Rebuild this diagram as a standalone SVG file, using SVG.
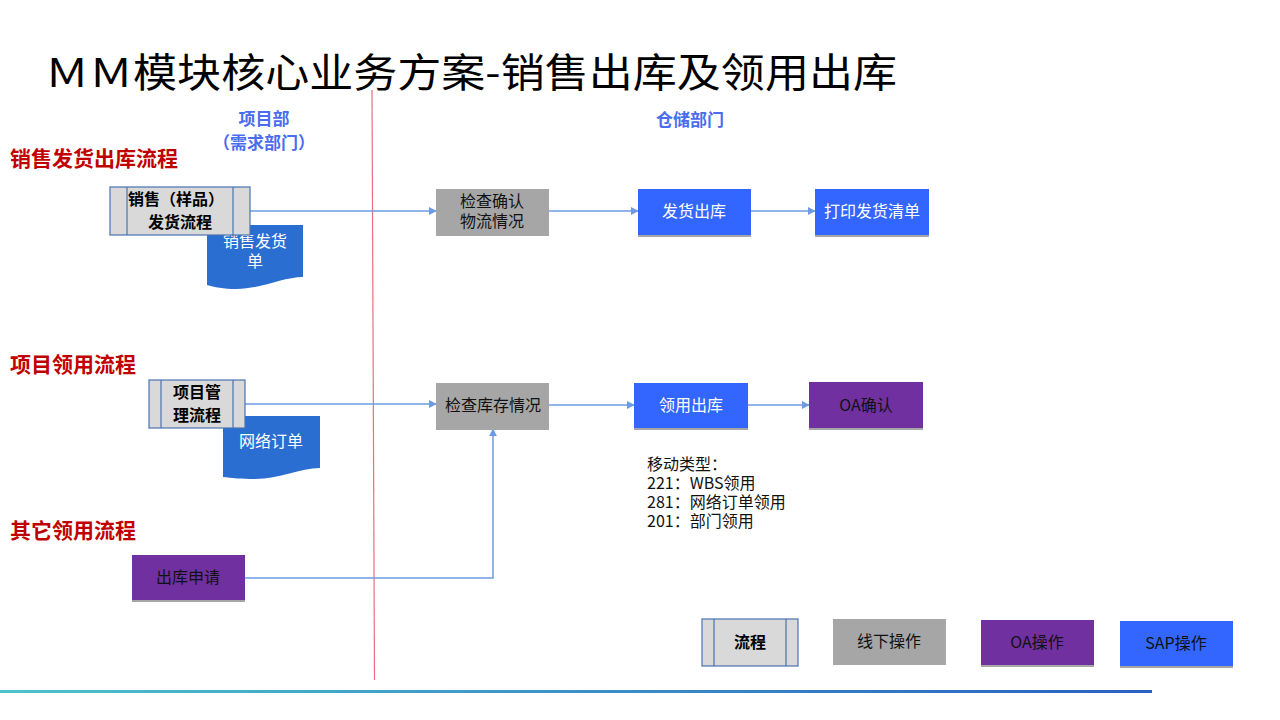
<svg xmlns="http://www.w3.org/2000/svg" width="1280" height="720" viewBox="0 0 1280 720">
<defs>
<linearGradient id="bar" x1="0" y1="0" x2="1" y2="0">
<stop offset="0" stop-color="#4CC3C9"/>
<stop offset="1" stop-color="#2A5FC4"/>
</linearGradient>
<marker id="arr" viewBox="0 0 10 10" refX="9" refY="5" markerWidth="8" markerHeight="8" markerUnits="userSpaceOnUse" orient="auto">
<path d="M0,0 L10,5 L0,10 Z" fill="#6D9BE3"/>
</marker>
<style>
text{font-family:"Microsoft YaHei","Noto Sans CJK SC","Liberation Sans",sans-serif;}
.lane{font-size:17px;font-weight:bold;fill:#4A6CF0;}
.flow{font-size:21px;font-weight:bold;fill:#C00000;}
.proc{fill:#D9D9D9;stroke:#4A72B0;stroke-width:1.2;}
.pt{font-size:16px;font-weight:bold;fill:#000;text-anchor:middle;}
.gray{fill:#A6A6A6;}
.blue{fill:#3366FF;}
.purp{fill:#7030A0;}
.shadow{fill:#A6A6A6;}
.doc{fill:#2B6ED2;}
.wt{font-size:16px;fill:#fff;text-anchor:middle;}
.bt{font-size:16px;fill:#111;text-anchor:middle;}
.mt{font-size:16px;fill:#111;}
.conn{fill:none;stroke:#6D9BE3;stroke-width:1.5;}
</style>
</defs>
<rect width="1280" height="720" fill="#fff"/>
<text x="45" y="87" font-size="40" textLength="852" lengthAdjust="spacingAndGlyphs" fill="#000">ＭＭ模块核心业务方案-销售出库及领用出库</text>
<line x1="372" y1="90" x2="374.5" y2="680" stroke="#E8707F" stroke-width="1.2"/>
<text class="lane" text-anchor="middle"><tspan x="264" y="125">项目部</tspan><tspan x="264" dy="24">（需求部门）</tspan></text>
<text class="lane" x="690" y="126" text-anchor="middle">仓储部门</text>
<text class="flow" x="10" y="166">销售发货出库流程</text>
<text class="flow" x="10" y="372">项目领用流程</text>
<text class="flow" x="10" y="538">其它领用流程</text>
<g id="connectors">
<path class="conn" d="M250,211 H436" marker-end="url(#arr)"/>
<path class="conn" d="M549,211 H638" marker-end="url(#arr)"/>
<path class="conn" d="M750,211 H815" marker-end="url(#arr)"/>
<path class="conn" d="M245,404 H436" marker-end="url(#arr)"/>
<path class="conn" d="M549,405 H634" marker-end="url(#arr)"/>
<path class="conn" d="M748,405 H809" marker-end="url(#arr)"/>
<path class="conn" d="M244,578 H493 V429" marker-end="url(#arr)"/>
</g>
<g id="doc1">
<path class="doc" d="M207,225 H303 V277 C283,277 262,289 236,289 C224,289 214,287 207,285 Z"/>
<text class="wt"><tspan x="255" y="247">销售发货</tspan><tspan x="255" dy="20">单</tspan></text>
</g>
<g id="proc1">
<rect class="proc" x="110" y="187" width="140" height="48"/>
<line class="proc" x1="127" y1="187" x2="127" y2="235"/>
<line class="proc" x1="233" y1="187" x2="233" y2="235"/>
<text class="pt"><tspan x="176" y="205">销售（样品）</tspan><tspan x="180" dy="23">发货流程</tspan></text>
</g>
<g id="check1">
<rect class="gray" x="436" y="189" width="113" height="47"/>
<text class="bt"><tspan x="492" y="207">检查确认</tspan><tspan x="492" dy="20">物流情况</tspan></text>
</g>
<g id="ship">
<rect class="shadow" x="638" y="189" width="113" height="48"/>
<rect class="blue" x="638" y="189" width="113" height="46"/>
<text class="wt" x="694" y="217">发货出库</text>
</g>
<g id="print">
<rect class="shadow" x="815" y="189" width="114" height="48"/>
<rect class="blue" x="815" y="189" width="114" height="46"/>
<text class="wt" x="872" y="217">打印发货清单</text>
</g>
<g id="doc2">
<path class="doc" d="M223,416 H320 V468 C300,468 280,479 255,479 C242,479 231,478 223,477 Z"/>
<text class="wt" x="271" y="447">网络订单</text>
</g>
<g id="proc2">
<rect class="proc" x="149" y="380" width="96" height="48"/>
<line class="proc" x1="161" y1="380" x2="161" y2="428"/>
<line class="proc" x1="233" y1="380" x2="233" y2="428"/>
<text class="pt"><tspan x="197" y="398">项目管</tspan><tspan x="197" dy="23">理流程</tspan></text>
</g>
<g id="check2">
<rect class="gray" x="436" y="383" width="113" height="47"/>
<text class="bt" x="493" y="411">检查库存情况</text>
</g>
<g id="issue">
<rect class="shadow" x="634" y="383" width="114" height="47"/>
<rect class="blue" x="634" y="383" width="114" height="45"/>
<text class="wt" x="691" y="411">领用出库</text>
</g>
<g id="oa">
<rect class="shadow" x="809" y="382" width="114" height="48"/>
<rect class="purp" x="809" y="382" width="114" height="46"/>
<text class="bt" x="866" y="411">OA确认</text>
</g>
<g id="movetypes">
<text class="mt"><tspan x="647" y="470">移动类型：</tspan><tspan x="647" dy="19">221：WBS领用</tspan><tspan x="647" dy="19">281：网络订单领用</tspan><tspan x="647" dy="19">201：部门领用</tspan></text>
</g>
<g id="request">
<rect class="shadow" x="132" y="555" width="113" height="47"/>
<rect class="purp" x="132" y="555" width="113" height="45"/>
<text class="bt" x="188" y="583">出库申请</text>
</g>
<g id="legend-flow">
<rect class="proc" x="702" y="619" width="96" height="47"/>
<line class="proc" x1="714" y1="619" x2="714" y2="666"/>
<line class="proc" x1="786" y1="619" x2="786" y2="666"/>
<text class="pt" x="750" y="648">流程</text>
</g>
<g id="legend-offline">
<rect class="gray" x="833" y="619" width="113" height="46"/>
<text class="bt" x="889" y="647">线下操作</text>
</g>
<g id="legend-oa">
<rect class="shadow" x="981" y="620" width="113" height="47"/>
<rect class="purp" x="981" y="620" width="113" height="45"/>
<text class="bt" x="1037" y="648">OA操作</text>
</g>
<g id="legend-sap">
<rect class="shadow" x="1120" y="621" width="113" height="47"/>
<rect class="blue" x="1120" y="621" width="113" height="45"/>
<text class="bt" x="1176" y="649">SAP操作</text>
</g>
<rect x="0" y="690" width="1152" height="3" fill="url(#bar)"/>
</svg>
